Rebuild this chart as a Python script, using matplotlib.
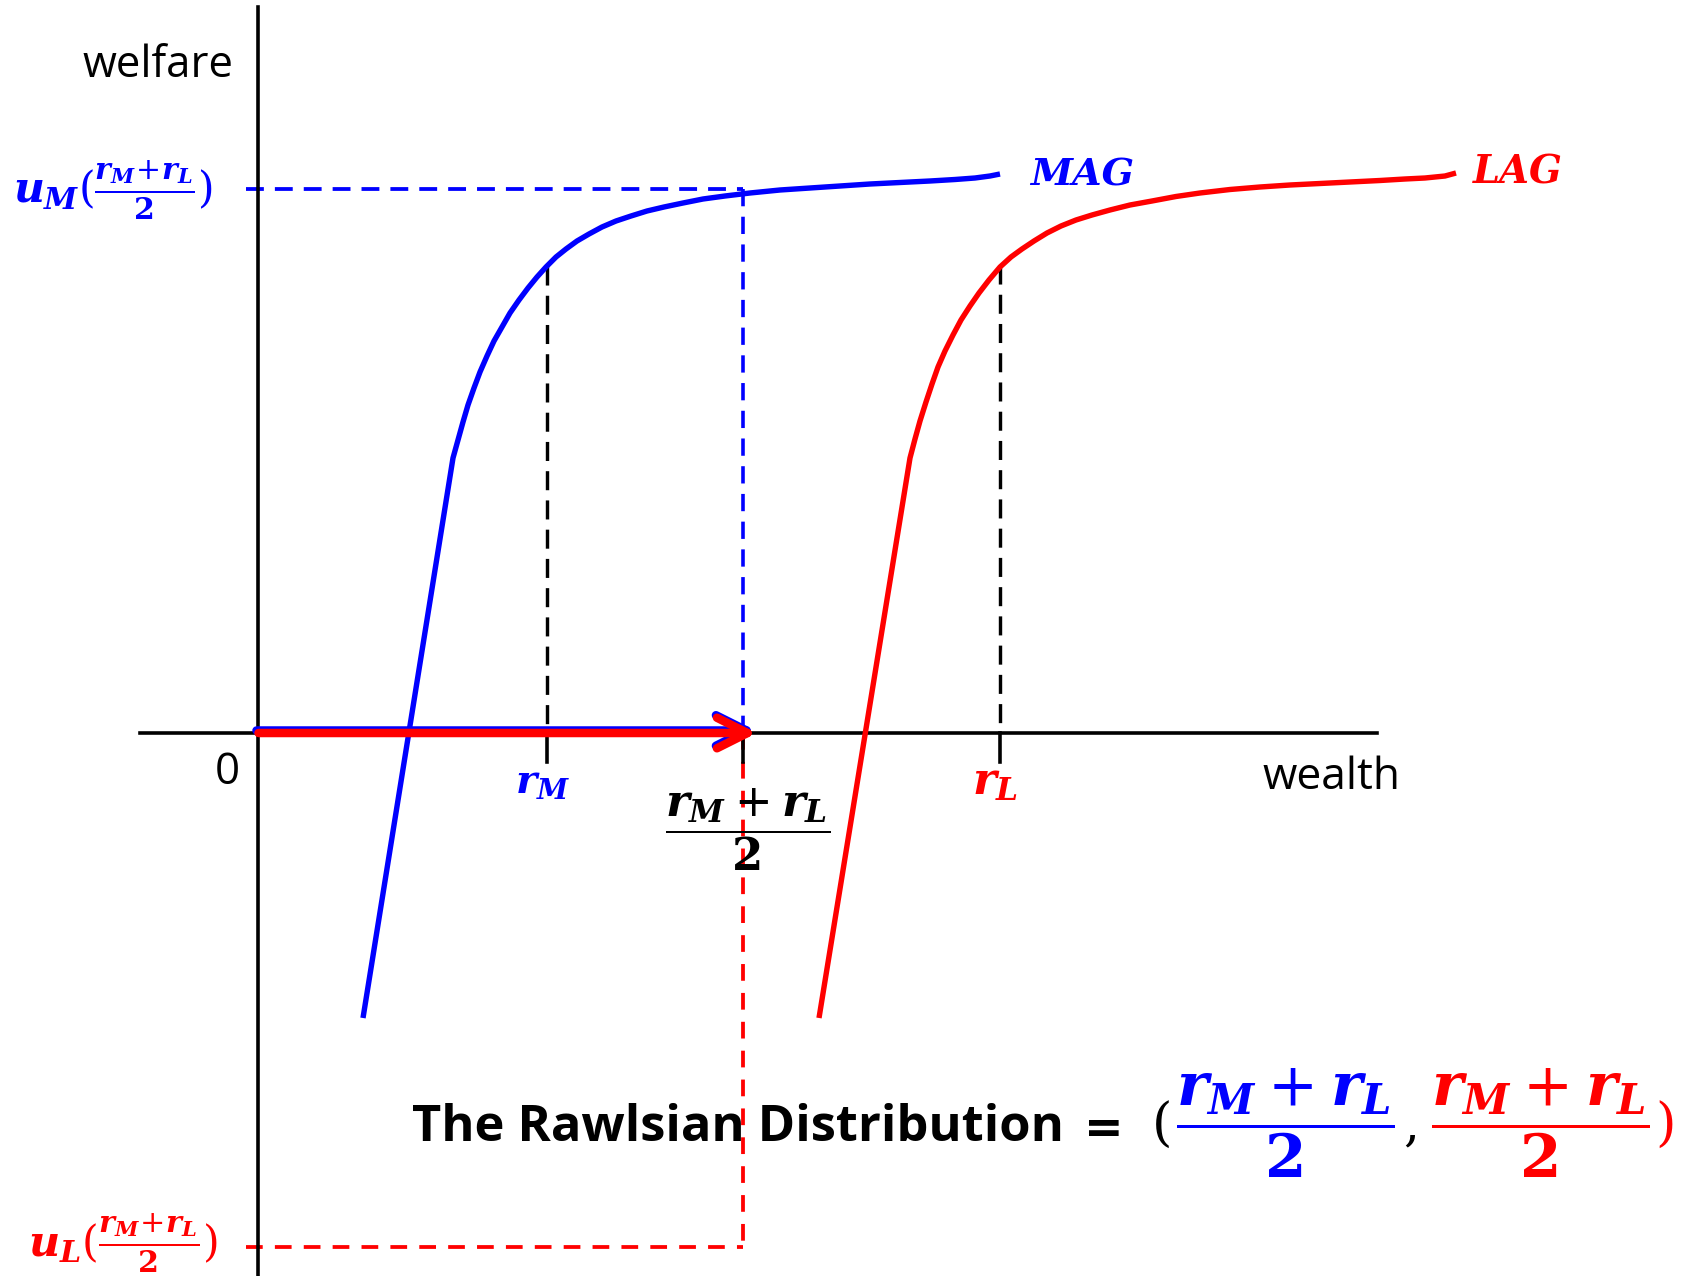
import matplotlib
matplotlib.use('Agg')
import matplotlib.pyplot as plt

# ---------------- data (diagram units: wealth, welfare) ----------------
mag_wealth = [1.05, 1.95, 2.00, 2.05, 2.10, 2.16, 2.22, 2.29, 2.36, 2.44, 2.52,
              2.61, 2.70, 2.79, 2.88, 2.98, 3.08, 3.19, 3.31, 3.44, 3.58, 3.73,
              3.89, 4.06, 4.25, 4.45, 4.67, 4.92, 5.22, 5.52, 5.82, 6.12, 6.42,
              6.72, 6.97, 7.17, 7.32, 7.42]
mag_welfare = [-2.85, 2.75, 2.93, 3.11, 3.28, 3.45, 3.61, 3.77, 3.92, 4.06, 4.20,
               4.33, 4.45, 4.56, 4.66, 4.76, 4.84, 4.92, 4.99, 5.06, 5.12, 5.17,
               5.22, 5.26, 5.30, 5.34, 5.37, 5.40, 5.43, 5.45, 5.47, 5.49, 5.505,
               5.52, 5.535, 5.55, 5.57, 5.59]
lag_wealth = [5.61, 6.52, 6.57, 6.62, 6.68, 6.74, 6.80, 6.87, 6.95, 7.03, 7.12,
              7.21, 7.31, 7.42, 7.53, 7.64, 7.76, 7.89, 8.03, 8.18, 8.34, 8.52,
              8.72, 8.94, 9.18, 9.42, 9.72, 10.02, 10.32, 10.62, 10.92, 11.22,
              11.47, 11.67, 11.87, 11.98]
lag_welfare = [-2.85, 2.75, 2.94, 3.12, 3.31, 3.49, 3.66, 3.82, 3.98, 4.13, 4.27,
               4.40, 4.53, 4.66, 4.76, 4.84, 4.92, 5.00, 5.07, 5.13, 5.18, 5.23,
               5.28, 5.32, 5.365, 5.40, 5.435, 5.46, 5.48, 5.495, 5.51, 5.525,
               5.54, 5.55, 5.57, 5.60]

r_M = 2.89
r_L = 7.42
r_mid = 4.85
u_at_rM = 4.67
u_at_rL = 4.68
u_M_mid = 5.44
u_L_mid = -5.14
arrow_tip = 4.99
x_axis_span = [-1.18, 11.19]
y_axis_span = [-5.45, 7.26]
tick_depth = -0.29
dash_start = -0.12

BLUE = '#0000FF'
RED = '#FF0000'

plt.rcParams['mathtext.fontset'] = 'custom'
plt.rcParams['mathtext.it'] = 'DejaVu Serif:italic:bold'
plt.rcParams['mathtext.rm'] = 'DejaVu Serif'
plt.rcParams['mathtext.bf'] = 'DejaVu Serif:bold'

fig = plt.figure(figsize=(16.84, 12.76), dpi=100)
ax = fig.add_axes([0, 0, 1, 1])
ax.set_xlim(-2.58, 14.26)
ax.set_ylim(-5.43, 7.33)
ax.axis('off')

PX = 0.72  # points per pixel at 100 dpi

# axes
ax.plot(x_axis_span, [0, 0], color='black', lw=3.6 * PX, zorder=2)
ax.plot([0, 0], y_axis_span, color='black', lw=3.6 * PX, zorder=2)

# guide dashed lines
ax.plot([r_M, r_M], [u_at_rM, 0], color='black', lw=3.4 * PX, ls=(0, (5.6, 3.0)), zorder=1)
ax.plot([r_L, r_L], [u_at_rL, 0], color='black', lw=3.4 * PX, ls=(0, (5.6, 3.0)), zorder=1)
ax.plot([dash_start, r_mid], [u_M_mid, u_M_mid], color=BLUE, lw=3.8 * PX, ls=(0, (4.7, 2.9)), zorder=1)
ax.plot([r_mid, r_mid], [u_M_mid, 0], color=BLUE, lw=3.6 * PX, ls=(0, (4.8, 2.9)), zorder=1)
ax.plot([r_mid, r_mid], [0, u_L_mid], color=RED, lw=3.8 * PX, ls=(0, (4.4, 3.2)), zorder=1)
ax.plot([dash_start, r_mid], [u_L_mid, u_L_mid], color=RED, lw=3.8 * PX, ls=(0, (4.4, 3.2)), zorder=1)

# ticks
for xv in (r_M, r_mid, r_L):
    ax.plot([xv, xv], [0, tick_depth], color='black', lw=3.6 * PX, zorder=3)

# curves
ax.plot(mag_wealth, mag_welfare, color=BLUE, lw=5.4 * PX, solid_capstyle='butt',
        solid_joinstyle='round', zorder=4)
ax.plot(lag_wealth, lag_welfare, color=RED, lw=5.4 * PX, solid_capstyle='butt',
        solid_joinstyle='round', zorder=4)

# arrow (red with blue edge)
ax.annotate('', xy=(arrow_tip - 0.01, 0.025), xytext=(-0.015, 0.025),
            arrowprops=dict(arrowstyle='->,head_length=2.2,head_width=1.1', color=BLUE,
                            lw=8.5 * PX, shrinkA=0, shrinkB=0, mutation_scale=10,
                            capstyle='round'), zorder=5)
ax.annotate('', xy=(arrow_tip, 0.0), xytext=(0.005, 0.0),
            arrowprops=dict(arrowstyle='->,head_length=2.2,head_width=1.1', color=RED,
                            lw=8.5 * PX, shrinkA=0, shrinkB=0, mutation_scale=10,
                            capstyle='round'), zorder=6)

# ---------------- texts ----------------
SANS = ['Open Sans', 'DejaVu Sans']
texts = []
t = ax.text(-1.005, 6.56, 'welfare', family=SANS, fontsize=32, ha='center', va='baseline')
texts.append((t, 151))
t = ax.text(10.73, -0.56, 'wealth', family=SANS, fontsize=32, ha='center', va='baseline')
texts.append((t, 138))
t0 = ax.text(-0.31, -0.40, '0', family=SANS, fontsize=32, ha='center', va='center')

t = ax.text(7.72, 5.48, 'MAG', family='DejaVu Serif', style='italic', weight='bold',
            color=BLUE, fontsize=28, ha='left', va='baseline')
texts.append((t, 104))
t = ax.text(12.15, 5.50, 'LAG', family='DejaVu Serif', style='italic', weight='bold',
            color=RED, fontsize=28, ha='left', va='baseline')
texts.append((t, 90))

t = ax.text(2.84, -0.49, r'$r_M$', color=BLUE, fontsize=28, ha='center', va='center')
texts.append((t, 55))
t = ax.text(7.37, -0.49, r'$r_L$', color=RED, fontsize=28, ha='center', va='center')
texts.append((t, 46))
t = ax.text(4.90, -0.97, r'$\dfrac{r_M + r_L}{\mathbf{2}}$', color='black', fontsize=28,
            ha='center', va='center')
texts.append((t, 165))

t = ax.text(-1.45, 5.43, r'$u_M(\frac{r_M\!+\!r_L}{\mathbf{2}})$', color=BLUE, fontsize=28,
            ha='center', va='center')
texts.append((t, 200))
t = ax.text(-1.35, -5.10, r'$u_L(\frac{r_M\!+\!r_L}{\mathbf{2}})$', color=RED, fontsize=28,
            ha='center', va='center')
texts.append((t, 190))

t = ax.text(1.54, -4.08, 'The Rawlsian Distribution', family=SANS, weight='bold',
            fontsize=36, ha='left', va='baseline', zorder=7)
texts.append((t, 651))
ax.text(8.46, -3.97, '=', family='DejaVu Sans', weight='bold', fontsize=34,
        ha='center', va='center')
ax.text(9.04, -3.93, '(', family='DejaVu Serif', fontsize=38, ha='center', va='center')
t = ax.text(10.27, -3.90, r'$\dfrac{r_M + r_L}{\mathbf{2}}$', color=BLUE, fontsize=40,
            ha='center', va='center')
texts.append((t, 219))
ax.text(11.53, -4.07, ',', family='DejaVu Serif', fontsize=36, ha='center', va='baseline')
t = ax.text(12.82, -3.90, r'$\dfrac{r_M + r_L}{\mathbf{2}}$', color=RED, fontsize=40,
            ha='center', va='center')
texts.append((t, 219))
ax.text(14.08, -3.93, ')', family='DejaVu Serif', color=RED, fontsize=38,
        ha='center', va='center')

# scale fonts so that text widths match the reference
fig.canvas.draw()
renderer = fig.canvas.get_renderer()
for _ in range(2):
    for txt, width in texts:
        w = txt.get_window_extent(renderer).width
        txt.set_fontsize(txt.get_fontsize() * width / w)
    fig.canvas.draw()
t0.set_fontsize(texts[0][0].get_fontsize())

fig.savefig('out.png', dpi=100)
